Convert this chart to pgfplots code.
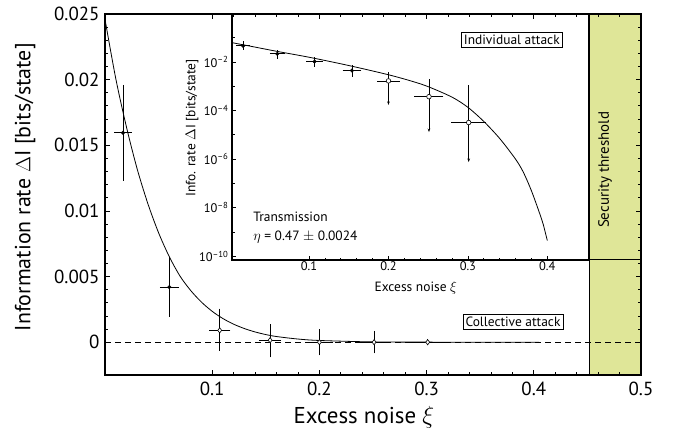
\documentclass[border=0pt]{standalone}
\usepackage{fontspec}
\setmainfont{PT Sans}
\usepackage{pgfplots}
\pgfplotsset{compat=1.18}
\usetikzlibrary{arrows.meta}
\definecolor{band}{RGB}{223,230,152}

\begin{document}
\begin{tikzpicture}
\useasboundingbox (-105bp,-57bp) rectangle (592bp,375bp);
% main axis: collective attack
\begin{axis}[
  at={(0,0)}, anchor=south west,
  scale only axis, width=536bp, height=361bp,
  xmin=0, xmax=0.5, ymin=-0.0025, ymax=0.025,
  xtick={0.1,0.2,0.3,0.4,0.5},
  ytick={0,0.005,0.01,0.015,0.02,0.025},
  minor x tick num=4, minor y tick num=4,
  scaled y ticks=false, scaled x ticks=false,
  yticklabel style={/pgf/number format/fixed, /pgf/number format/precision=3, xshift=-2bp},
  xticklabel style={yshift=-4bp},
  /pgf/number format/assume math mode=true,
  tick align=inside,
  major tick length=5bp, minor tick length=3bp,
  axis line style={line width=1.1bp},
  every tick/.style={line width=0.8bp, black},
  ticklabel style={font=\fontsize{19}{19}\selectfont},
  axis on top,
  xlabel={Excess noise $\xi$},
  ylabel={Information rate $\Delta\mathrm{I}$ [bits/state]},
  xlabel style={font=\fontsize{23}{23}\selectfont, at={(axis description cs:0.483,0)}, anchor=center, yshift=-42bp},
  ylabel style={font=\fontsize{22}{22}\selectfont, at={(axis description cs:0,0.52)}, anchor=center, yshift=80bp},
]
\fill[band] (axis cs:0.4515,-0.0025) rectangle (axis cs:0.5,0.025);
\draw[line width=1bp] (axis cs:0.4515,-0.0025) -- (axis cs:0.4515,0.025);
\draw[line width=1bp] (axis cs:0.4515,0.006261) -- (axis cs:0.5,0.006261);
\addplot[dash pattern=on 6bp off 4bp, line width=0.7bp] coordinates {(0,0) (0.5,0)};
% model curve
\addplot[line width=0.8bp, smooth] coordinates {
  (0,0.0246) (0.01,0.0201) (0.02,0.0164) (0.03,0.0132) (0.04,0.01055)
  (0.05,0.00833) (0.06,0.00651) (0.07,0.00503) (0.08,0.00393) (0.09,0.00305)
  (0.10,0.00235) (0.11,0.0018) (0.12,0.00137) (0.13,0.00104) (0.14,0.00078)
  (0.15,0.00058) (0.16,0.00043) (0.18,0.00024) (0.20,0.00013) (0.25,0.00002)
  (0.30,0.000003) (0.405,0)
};
% measured points
\addplot[only marks, mark=*, mark size=1.8bp,
  error bars/.cd, x dir=both, x explicit, y dir=both, y explicit,
  error bar style={line width=0.7bp}, error mark options={mark size=2bp, line width=0.7bp}]
  coordinates {
  (0.0168,0.01595) +- (0.0065,0.0035)
  (0.060,0.0042) +- (0.007,0.0021)
};
\addplot[only marks, mark=diamond*, mark options={fill=white, line width=0.6bp}, mark size=2.6bp,
  error bars/.cd, x dir=both, x explicit, y dir=both, y explicit,
  error bar style={line width=0.7bp}, error mark options={mark size=2bp, line width=0.7bp}]
  coordinates {
  (0.107,0.0009) += (0.008,0.0015) -= (0.008,0.0014)
  (0.154,0.00015) += (0.0085,0.00105) -= (0.0085,0.00115)
  (0.200,0) +- (0.011,0.00085)
  (0.251,0) +- (0.013,0.0007)
  (0.301,0) +- (0.019,0.0001)
};
\node[draw, line width=0.8bp, fill=white, inner sep=2.5bp, font=\fontsize{13.5}{13.5}\selectfont]
  at (axis cs:0.3806,0.001537) {Collective attack};
\node[rotate=90, font=\fontsize{15}{15}\selectfont] at (axis cs:0.4664,0.01312) {Security threshold};
\end{axis}
% inset: individual attack
\begin{axis}[
  at={(127bp,115bp)}, anchor=south west,
  scale only axis, width=357bp, height=246bp,
  ymode=log,
  xmin=0.003, xmax=0.4525, ymin=7.1e-11, ymax=0.93,
  xtick={0.1,0.2,0.3,0.4}, minor x tick num=4,
  ytick={1e-10,1e-8,1e-6,1e-4,1e-2},
  yticklabels={10\textsuperscript{–10},10\textsuperscript{–8},10\textsuperscript{–6},10\textsuperscript{–4},10\textsuperscript{–2}},
  minor ytick={1e-9,1e-7,1e-5,1e-3,1e-1},
  xtick pos=left, ytick pos=left,
  /pgf/number format/assume math mode=true,
  tick align=inside,
  major tick length=4bp, minor tick length=2.5bp,
  axis line style={line width=1.1bp},
  every tick/.style={line width=0.7bp, black},
  ticklabel style={font=\fontsize{12.5}{12.5}\selectfont},
  xticklabel style={yshift=2bp},
  xlabel={Excess noise $\xi$},
  ylabel={Info. rate $\Delta\mathrm{I}$ [bits/state]},
  xlabel style={font=\fontsize{13.5}{13.5}\selectfont, at={(axis description cs:0.515,0)}, anchor=center, yshift=-28bp},
  ylabel style={font=\fontsize{13.5}{13.5}\selectfont, at={(axis description cs:0,0.537)}, anchor=center, yshift=40bp},
]
\addplot[line width=0.8bp, smooth] coordinates {
  (0.003,0.0617) (0.03,0.0417) (0.06,0.0269) (0.10,0.0155) (0.15,0.00708)
  (0.20,0.00295) (0.23,0.00158) (0.25,9.55e-4) (0.28,3.55e-4) (0.30,1.35e-4)
  (0.32,3.55e-5) (0.34,7.08e-6) (0.36,1e-6) (0.37,2.82e-7) (0.38,5.01e-8)
  (0.39,6.31e-9) (0.395,2.0e-9) (0.40,4.47e-10)
};
\addplot[only marks, mark=*, mark size=1.8bp,
  error bars/.cd, x dir=both, x explicit, y dir=both, y explicit,
  error bar style={line width=0.7bp}, error mark options={mark size=1.8bp, line width=0.7bp}]
  coordinates {
  (0.017,0.0457) += (0.007,0.0143) -= (0.007,0.0077)
  (0.060,0.0214) += (0.007,0.0044) -= (0.007,0.0052)
  (0.107,0.0103) += (0.008,0.0029) -= (0.008,0.0027)
  (0.154,0.00439) += (0.0095,0.0018) -= (0.0095,0.0015)
};
\addplot[-{Stealth[length=3.5bp,width=2.6bp]}, line width=0.7bp] coordinates {(0.200,0.00165) (0.200,1.7e-4)};
\addplot[-{Stealth[length=3.5bp,width=2.6bp]}, line width=0.7bp] coordinates {(0.251,0.00037) (0.251,1.3e-5)};
\addplot[-{Stealth[length=3.5bp,width=2.6bp]}, line width=0.7bp] coordinates {(0.301,0.000032) (0.301,7.6e-7)};
\addplot[only marks, mark=*, mark options={fill=white, line width=0.6bp}, mark size=2.3bp,
  error bars/.cd, x dir=both, x explicit, y dir=plus, y explicit,
  error bar style={line width=0.7bp}, error mark options={mark size=1.8bp, line width=0.7bp}]
  coordinates {
  (0.200,0.00165) +- (0.012,0.00155)
  (0.251,0.00037) +- (0.016,0.00128)
  (0.301,0.000032) +- (0.0195,0.0009)
};
\node[draw, line width=0.8bp, fill=white, inner sep=2.5bp, font=\fontsize{13.5}{13.5}\selectfont]
  at (axis cs:0.3553,0.0803) {Individual attack};
\node[anchor=west, font=\fontsize{13.5}{13.5}\selectfont] at (axis cs:0.0254,4.2e-9) {Transmission};
\node[anchor=west, font=\fontsize{13.5}{13.5}\selectfont] at (axis cs:0.0254,6.3e-10) {$\eta$ = 0.47 $\pm$ 0.0024};
\end{axis}
\end{tikzpicture}
\end{document}
